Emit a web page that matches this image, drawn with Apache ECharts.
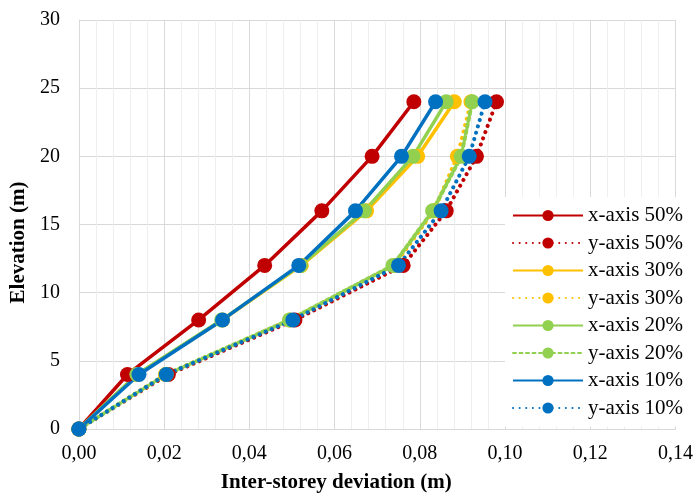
<!DOCTYPE html>
<html>
<head>
<meta charset="utf-8">
<script src="https://cdn.jsdelivr.net/npm/echarts@6/dist/echarts.min.js"></script>
<style>
  html, body { margin: 0; padding: 0; background: #fff; }
  #chart { width: 696px; height: 498px; }
</style>
</head>
<body>
<div id="chart"></div>
<script>
// storey elevations (m)
const elevation = [0, 4, 8, 12, 16, 20, 24];

// inter-storey deviation (m)
const x50 = [0, 0.0114, 0.0281, 0.0436, 0.0570, 0.0688, 0.0786];
const y50 = [0, 0.0210, 0.0507, 0.0761, 0.0862, 0.0933, 0.0980];
const x30 = [0, 0.0137, 0.0337, 0.0522, 0.0675, 0.0795, 0.0881];
const y30 = [0, 0.0203, 0.0495, 0.0740, 0.0833, 0.0888, 0.0920];
const x20 = [0, 0.0136, 0.0335, 0.0520, 0.0670, 0.0784, 0.0862];
const y20 = [0, 0.0205, 0.0494, 0.0737, 0.0830, 0.0897, 0.0923];
const x10 = [0, 0.0141, 0.0337, 0.0516, 0.0649, 0.0757, 0.0837];
const y10 = [0, 0.0205, 0.0502, 0.0750, 0.0850, 0.0916, 0.0953];

const names = ['x-axis 50%', 'y-axis 50%', 'x-axis 30%', 'y-axis 30%',
               'x-axis 20%', 'y-axis 20%', 'x-axis 10%', 'y-axis 10%'];
const values = [x50, y50, x30, y30, x20, y20, x10, y10];
const colors = ['#C00000', '#C00000', '#FFC000', '#FFC000',
                '#92D050', '#92D050', '#0070C0', '#0070C0'];
const dashes = ['solid', [0.1, 6.5], 'solid', [0.1, 6.5],
                'solid', [3, 3.5], 'solid', [0.1, 6.5]];

const font = 'Liberation Serif';

function pairs(xs) {
    return xs.map((v, i) => [v, elevation[i]]);
}

let series = names.map((n, i) => ({
    name: n,
    type: 'line',
    data: pairs(values[i]),
    symbol: 'circle',
    symbolSize: 15,
    color: colors[i],
    itemStyle: { color: colors[i] },
    lineStyle: {
        color: colors[i],
        width: dashes[i] === 'solid' ? 3.5 : 4,
        type: dashes[i],
        cap: dashes[i] === 'solid' ? 'butt' : 'round'
    },
    emphasis: { disabled: true },
    animation: false
}));

let chart = echarts.init(document.getElementById('chart'));
chart.setOption({
    backgroundColor: '#fff',
    textStyle: { fontFamily: font },
    grid: { left: 76, right: 18, top: 20, bottom: 69 },
    xAxis: {
        type: 'value',
        min: 0, max: 0.14, interval: 0.02,
        name: 'Inter-storey deviation (m)',
        nameLocation: 'middle',
        nameGap: 43,
        nameTextStyle: {
            fontFamily: font, fontSize: 21, fontWeight: 'bold', color: '#000',
            padding: [0, 82, 0, 0]
        },
        axisLine: { show: true, lineStyle: { color: '#d9d9d9' } },
        axisTick: { show: false },
        axisLabel: {
            fontFamily: font, fontSize: 20, color: '#000', margin: 15,
            formatter: v => v.toFixed(2).replace('.', ',')
        },
        splitLine: { show: true, lineStyle: { color: '#d9d9d9', width: 1 } },
        minorTick: { show: false, splitNumber: 5 },
        minorSplitLine: { show: true, lineStyle: { color: '#eeeeee', width: 1 } }
    },
    yAxis: {
        type: 'value',
        min: 0, max: 30, interval: 5,
        name: 'Elevation (m)',
        nameLocation: 'middle',
        nameGap: 44,
        nameTextStyle: {
            fontFamily: font, fontSize: 21, fontWeight: 'bold', color: '#000',
            padding: [0, 36, 0, 0]
        },
        axisLine: { show: true, lineStyle: { color: '#d9d9d9' } },
        axisTick: { show: false },
        axisLabel: { fontFamily: font, fontSize: 20, color: '#000', margin: 19 },
        splitLine: { show: true, lineStyle: { color: '#d9d9d9', width: 1 } }
    },
    legend: {
        orient: 'vertical',
        left: 505,
        top: 197,
        padding: [8, 4, 8, 7],
        backgroundColor: '#fff',
        itemWidth: 70,
        itemHeight: 14,
        itemGap: 6.5,
        textStyle: { fontFamily: font, fontSize: 21, lineHeight: 21, color: '#000' },
        data: names
    },
    series: series
});
</script>
</body>
</html>
